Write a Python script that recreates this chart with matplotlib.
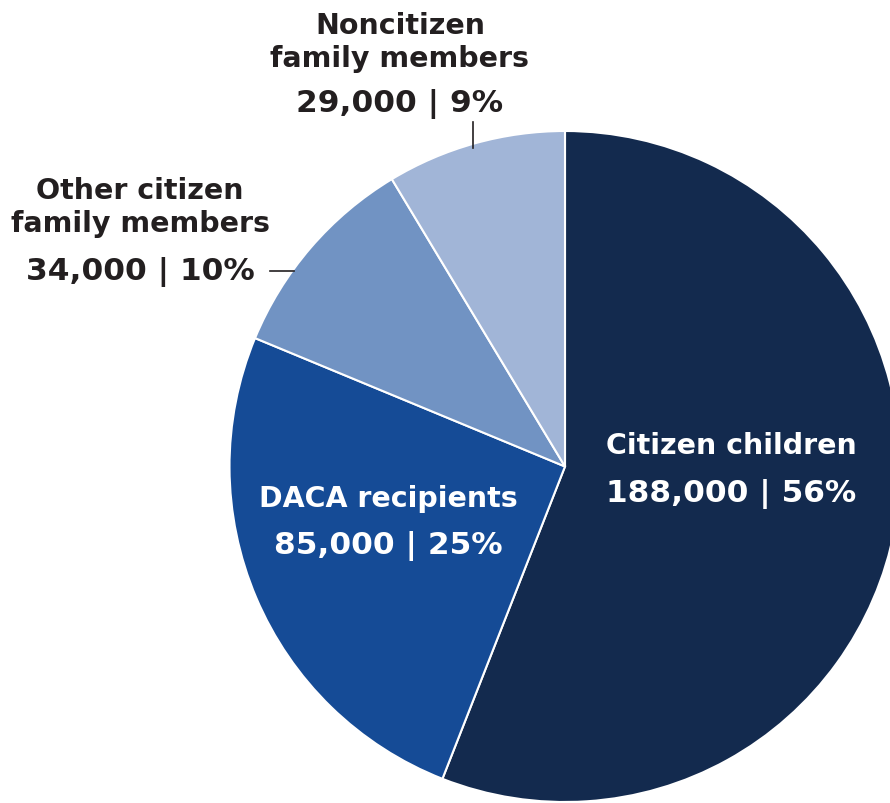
import matplotlib.pyplot as plt

# data
labels = ['Citizen children', 'DACA recipients', 'Other citizen\nfamily members', 'Noncitizen\nfamily members']
values = [188000, 85000, 34000, 29000]
percents = ['56%', '25%', '10%', '9%']
colors = ['#132a4e', '#154b96', '#7193c3', '#a1b5d7']

W, H = 890, 804
fig = plt.figure(figsize=(W / 100, H / 100), dpi=100)
ax = fig.add_axes([0, 0, 1, 1])

cx, cy, r = 565, H - 467.5, 335.5
ax.pie(values, colors=colors, startangle=90, counterclock=False,
       center=(cx, cy), radius=r,
       wedgeprops=dict(edgecolor='white', linewidth=1.5))
ax.set_xlim(0, W)
ax.set_ylim(0, H)
ax.set_aspect('equal')
ax.axis('off')

def num(i):
    return '{:,} | {}'.format(values[i], percents[i])

dark = '#231f20'
fam = ['DejaVu Sans']
fs = 20.5
fsn = 22.5

# inside labels
ax.text(731, H - 446, labels[0], color='white', fontsize=fs, fontweight='bold',
        family=fam, ha='center', va='center')
ax.text(731, H - 494, num(0), color='white', fontsize=fsn, fontweight='bold',
        family=fam, ha='center', va='center')
ax.text(388, H - 499, labels[1], color='white', fontsize=fs, fontweight='bold',
        family=fam, ha='center', va='center')
ax.text(388, H - 546, num(1), color='white', fontsize=fsn, fontweight='bold',
        family=fam, ha='center', va='center')

# outside labels
ax.text(140, H - 207.5, labels[2], color=dark, fontsize=fs, fontweight='bold',
        family=fam, ha='center', va='center', linespacing=1.25)
ax.text(140, H - 272, num(2), color=dark, fontsize=fsn, fontweight='bold',
        family=fam, ha='center', va='center')
ax.plot([270, 294], [H - 272, H - 272], color=dark, lw=1.2)

ax.text(400, H - 42.5, labels[3], color=dark, fontsize=fs, fontweight='bold',
        family=fam, ha='center', va='center', linespacing=1.25)
ax.text(400, H - 104, num(3), color=dark, fontsize=fsn, fontweight='bold',
        family=fam, ha='center', va='center')
ax.plot([473, 473], [H - 123, H - 149], color=dark, lw=1.2)

fig.savefig('out.png', dpi=100)
